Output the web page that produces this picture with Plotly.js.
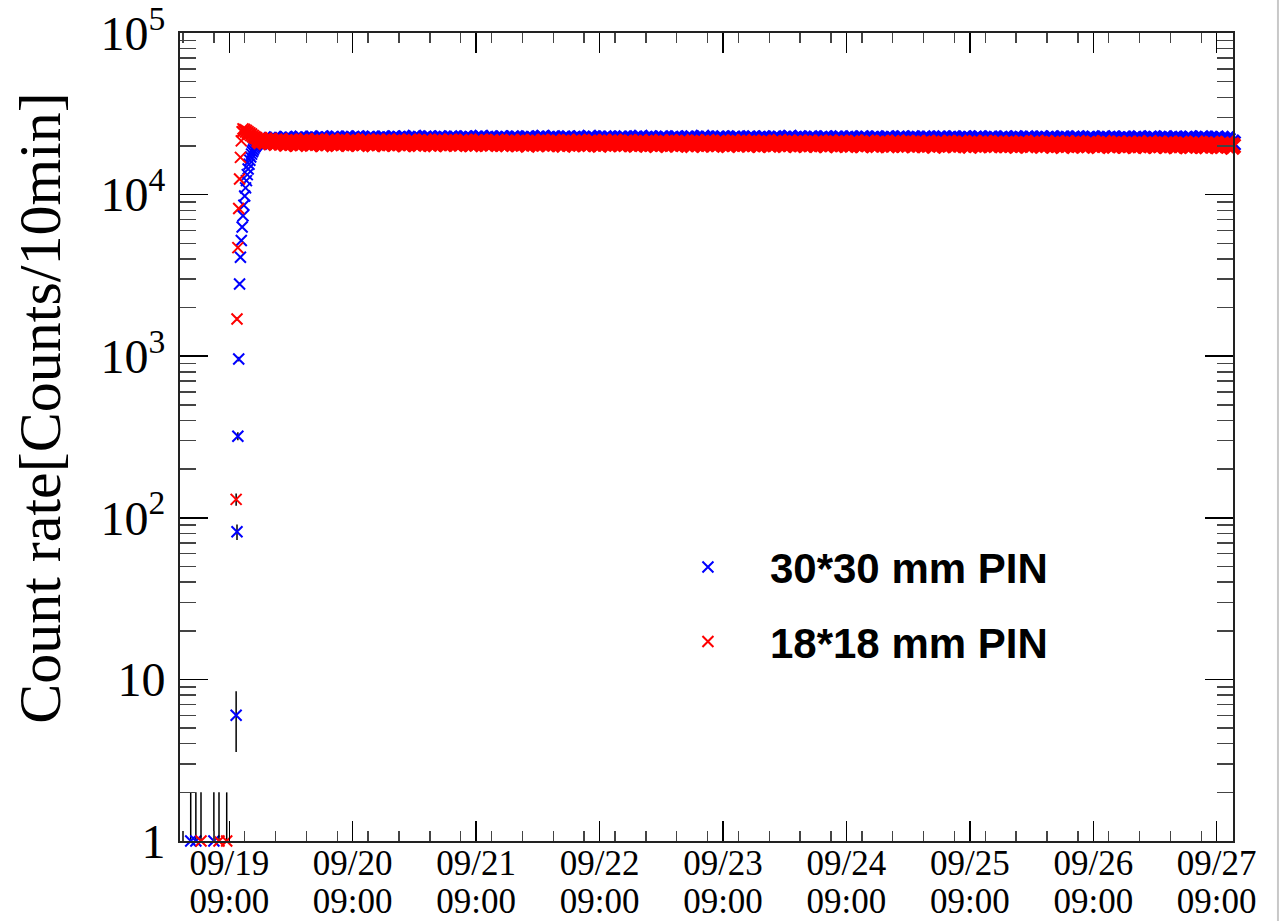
<!DOCTYPE html>
<html>
<head>
<meta charset="utf-8">
<script src="https://cdn.plot.ly/plotly-3.0.1.min.js"></script>
<style>html,body{margin:0;padding:0;background:#fff;}#chart{width:1287px;height:921px;}</style>
</head>
<body>
<div id="chart"></div>
<script>
// ---------------- data (counts per 10-min bin) ----------------
const seriesNames = ['30*30 mm PIN', '18*18 mm PIN'];

// isolated single counts before the source was switched on
const blueEarlyTimes  = ['2015-09-19 01:30', '2015-09-19 02:30', '2015-09-19 06:00'];
const blueEarlyCounts = [1, 1, 1];
const redEarlyTimes   = ['2015-09-19 03:30', '2015-09-19 07:00', '2015-09-19 08:30'];
const redEarlyCounts  = [1, 1, 1];

// rise: consecutive 10-minute bins starting at riseStart
const riseStart = '2015-09-19 10:20';
const riseStepMinutes = 10;
const blueRiseCounts = [6, 82, 320, 960, 2800, 4100, 5200, 6300, 7400, 8600, 9800, 11000, 12200, 13300,
  14400, 15400, 16300, 17100, 17800, 18400, 18900, 19400, 19800, 20200, 20500, 20800, 21000, 21200];
const redRiseCounts = [130, 1700, 4700, 8200, 12500, 17000, 21500, 24500, 25500, 24800, 25300, 24400, 24900, 24000,
  24500, 23600, 24100, 23200, 23700, 22800, 23200, 22500, 22800, 22200, 22500, 21900, 22100, 21800];

// plateau: one 10-minute bin read every hour, starting at plateauStart
const plateauStart = '2015-09-19 15:00';
const plateauStepMinutes = 60;
const bluePlateauCounts = [
  21400, 21600, 21500, 21800, 21600, 21900, 21700, 21800, 22000, 21700, 21900, 21800, 22100, 21800, 21900, 22000, 21700, 22000, 21900, 22100, 21800, 21900, 22000, 21800,
  22000, 21800, 22100, 21900, 22000, 21800, 22200, 21900, 22000, 22100, 21800, 22000, 21900, 22100, 22000, 21800, 22100, 21900, 22000, 22200, 21900, 22000, 21800, 22100,
  21900, 22100, 22000, 21800, 22100, 21900, 22000, 22200, 21900, 22100, 21800, 22000, 22100, 21900, 22000, 21800, 22200, 22000, 21900, 22100, 22000, 21800, 22000, 22100,
  21900, 22000, 22200, 21900, 22000, 21800, 22100, 22000, 21900, 22100, 21800, 22000, 22100, 21900, 22200, 22000, 21800, 22000, 22100, 21900, 22000, 22100, 21800, 22000,
  22100, 21900, 22000, 21800, 22100, 22000, 21900, 22200, 21900, 22000, 21800, 22100, 22000, 21900, 22100, 21800, 22000, 22100, 21900, 22000, 21800, 22100, 22000, 21900,
  22000, 21800, 22100, 21900, 22000, 22100, 21800, 22000, 21900, 22100, 22000, 21800, 22000, 22100, 21900, 22000, 21800, 22100, 21900, 22000, 22100, 21800, 22000, 21900,
  21900, 22100, 21800, 22000, 21900, 22100, 22000, 21800, 22000, 21900, 22100, 21800, 22000, 21900, 22000, 22100, 21800, 21900, 22000, 21800, 22100, 21900, 22000, 21800,
  22000, 21800, 21900, 22100, 21800, 22000, 21900, 21800, 22100, 21900, 22000, 21800, 21900, 22000, 21800, 22100, 21900, 21800, 22000, 21900, 21800, 20800];
const redPlateauCounts = [
  21600, 21400, 21300, 21100, 21200, 20900, 21100, 20800, 21000, 21200, 20900, 21100, 20700, 21000, 21200, 20800, 21000, 20900, 21200, 20800, 21000, 21100, 20700, 21000,
  20900, 21100, 20800, 21000, 20700, 21100, 20900, 20800, 21100, 20900, 20700, 21000, 20900, 21100, 20800, 20900, 21000, 20700, 20900, 21100, 20800, 20900, 21000, 20800,
  20700, 21000, 20800, 20900, 20600, 21000, 20800, 20900, 20700, 21000, 20800, 20600, 20900, 20800, 21000, 20700, 20800, 20900, 20600, 20900, 20800, 21000, 20700, 20800,
  20800, 20600, 20900, 20700, 20800, 20500, 20900, 20700, 20800, 20600, 20900, 20700, 20500, 20800, 20700, 20900, 20600, 20700, 20800, 20500, 20800, 20700, 20900, 20600,
  20700, 20500, 20800, 20600, 20700, 20900, 20500, 20700, 20600, 20800, 20500, 20700, 20600, 20800, 20400, 20700, 20600, 20800, 20500, 20600, 20700, 20400, 20800, 20600,
  20500, 20700, 20400, 20600, 20800, 20500, 20600, 20400, 20700, 20500, 20600, 20300, 20700, 20500, 20600, 20400, 20700, 20500, 20300, 20600, 20500, 20700, 20400, 20500,
  20600, 20400, 20500, 20300, 20600, 20400, 20500, 20700, 20300, 20500, 20400, 20600, 20200, 20500, 20400, 20600, 20300, 20400, 20500, 20200, 20600, 20400, 20300, 20500,
  20300, 20500, 20200, 20400, 20300, 20600, 20200, 20400, 20300, 20500, 20100, 20400, 20300, 20200, 20500, 20300, 20100, 20400, 20300, 20200, 20400, 20000];

// axis
const xRange = ['2015-09-18 23:25', '2015-09-27 12:10'];
const xTick0 = '2015-09-19 09:00';
const yAxisMin = 1;
const yTickVals = [1, 10, 100, 1000, 10000, 100000];
const yTickText = ['1', '10', '10<sup>2</sup>', '10<sup>3</sup>', '10<sup>4</sup>', '10<sup>5</sup>'];
const yTitle = 'Count rate[Counts/10min]';

// ---------------- helpers ----------------
function fmt(ms) {
  const d = new Date(ms), p = n => String(n).padStart(2, '0');
  return d.getUTCFullYear() + '-' + p(d.getUTCMonth() + 1) + '-' + p(d.getUTCDate()) + ' ' + p(d.getUTCHours()) + ':' + p(d.getUTCMinutes());
}
function binTimes(start, stepMin, n) {
  const t0 = Date.parse(start.replace(' ', 'T') + ':00Z');
  return Array.from({length: n}, (_, i) => fmt(t0 + i * stepMin * 60000));
}
function errs(y) {
  return {
    type: 'data', symmetric: false,
    array: y.map(v => Math.sqrt(v)),
    arrayminus: y.map(v => v - Math.max(v - Math.sqrt(v), yAxisMin)),
    color: '#000', thickness: 1.5, width: 0
  };
}
// early + rise bins (thin markers, shown in legend) and hourly plateau (same series, denser look)
function seriesTraces(earlyT, earlyC, riseC, plateauC, name, color, group, plateauAxis) {
  const x1 = earlyT.concat(binTimes(riseStart, riseStepMinutes, riseC.length));
  const y1 = earlyC.concat(riseC);
  const x2 = binTimes(plateauStart, plateauStepMinutes, plateauC.length);
  const y2 = plateauC;
  return [
    {type: 'scatter', mode: 'markers', name: name, legendgroup: group, x: x1, y: y1, cliponaxis: false,
      marker: {symbol: 'x-thin', size: 11, color: color, line: {width: 2, color: color}}, error_y: errs(y1)},
    {type: 'scatter', mode: 'markers', name: name, legendgroup: group, showlegend: false, x: x2, y: y2, cliponaxis: false,
      xaxis: plateauAxis,
      marker: {symbol: 'x-thin', size: 15, color: color, line: {width: 5, color: color}}, error_y: errs(y2)}
  ];
}
// minor tick positions of the log axis: 2..9 in every decade
const yMinorVals = [];
yTickVals.slice(0, -1).forEach(d => { for (let k = 2; k <= 9; k++) yMinorVals.push(d * k); });

const data = seriesTraces(blueEarlyTimes, blueEarlyCounts, blueRiseCounts, bluePlateauCounts, seriesNames[0], '#0000ff', 'a', 'x')
  .concat(seriesTraces(redEarlyTimes, redEarlyCounts, redRiseCounts, redPlateauCounts, seriesNames[1], '#ff0000', 'b', 'x2'));

const serif = 'Liberation Serif, Times New Roman, serif';
const xTickFont = {family: serif, size: 35, color: '#000'};
const layout = {
  width: 1287, height: 921,
  margin: {l: 180, r: 54, t: 33, b: 80},
  paper_bgcolor: '#fff', plot_bgcolor: '#fff',
  showlegend: true,
  legend: {x: 0.4425, y: 0.381, xanchor: 'left', yanchor: 'top', bgcolor: 'rgba(0,0,0,0)',
    font: {family: 'Liberation Sans, Arial, sans-serif', size: 42, weight: 'bold', color: '#000'},
    tracegroupgap: 17, itemwidth: 114},
  xaxis: {
    type: 'date', range: xRange, tick0: xTick0, dtick: 86400000,
    tickformat: '%m/%d', tickfont: xTickFont, ticklabeloverflow: 'allow',
    ticks: 'inside', ticklen: 20, tickwidth: 1.5, tickcolor: '#000',
    minor: {dtick: 6 * 3600000, ticks: 'inside', ticklen: 10, tickwidth: 1.5, tickcolor: '#444'},
    showline: true, linecolor: '#222', linewidth: 2, mirror: 'ticks',
    showgrid: false, zeroline: false, ticklabelstandoff: -10
  },
  // same time scale; carries the second label row (time of day) under the dates
  xaxis2: {
    type: 'date', range: xRange, tick0: xTick0, dtick: 86400000, overlaying: 'x', anchor: 'y', side: 'bottom',
    tickformat: '%H:%M', tickfont: xTickFont, ticklabeloverflow: 'allow',
    ticks: '', showline: false, showgrid: false, zeroline: false, ticklabelstandoff: 36
  },
  yaxis: {
    type: 'log', range: [0, 5], tickmode: 'array', tickvals: yTickVals, ticktext: yTickText,
    tickfont: {family: serif, size: 48, color: '#000'}, ticklabeloverflow: 'allow',
    ticks: 'inside', ticklen: 28, tickwidth: 1.5, tickcolor: '#000',
    minor: {tickmode: 'array', tickvals: yMinorVals, ticks: 'inside', ticklen: 16, tickwidth: 1.5, tickcolor: '#444'},
    showline: true, linecolor: '#222', linewidth: 2, mirror: 'ticks',
    showgrid: false, zeroline: false, ticklabelstandoff: 3
  },
  annotations: [{text: yTitle, textangle: -90, xref: 'paper', yref: 'paper', x: -0.133, y: 0.536,
    xanchor: 'center', yanchor: 'middle', showarrow: false,
    font: {family: serif, size: 60, color: '#000'}}],
  shapes: [{type: 'line', xref: 'paper', yref: 'paper', x0: 1.0427, x1: 1.0427, y0: -0.1, y1: 1.05,
    line: {color: '#c8c8c8', width: 2}}]
};
Plotly.newPlot('chart', data, layout, {staticPlot: true, displayModeBar: false});
</script>
</body>
</html>
